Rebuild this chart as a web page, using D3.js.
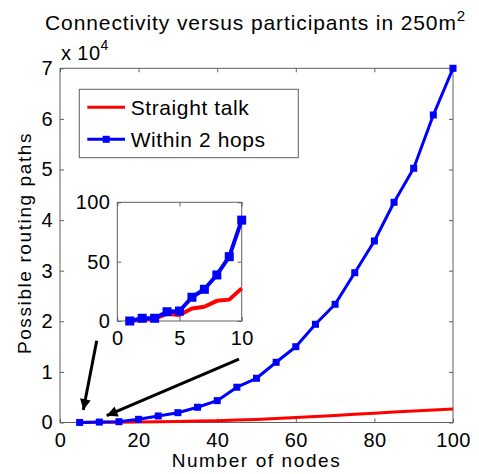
<!DOCTYPE html>
<html><head><meta charset="utf-8">
<script src="https://cdn.jsdelivr.net/npm/d3@7"></script>
<style>
body{margin:0;background:#fff}
svg{display:block;background:#fff}
text{font-family:"Liberation Sans",Arial,Helvetica,sans-serif;fill:#000}
</style>
</head><body>
<svg id="chart" width="479" height="474"></svg>
<script>
// ---- data ----
const nodes = [5,10,15,20,25,30,35,40,45,50,55,60,65,70,75,80,85,90,95,100];
const straightTalk = [5,27,50,90,140,200,280,370,480,600,780,980,1190,1400,1630,1850,2060,2260,2460,2650];
const within2Hops = [8,85,160,630,1290,1940,3010,4320,6970,8740,11900,14980,19410,23360,29600,35870,43520,50240,60770,70000];

const insetNodes = [1,2,3,4,5,6,7,8,9,10];
const insetStraight = [0,1,2,6,5,10.5,12,17,18,27.5];
const insetWithin = [0,2.3,2.3,7.8,8.4,20,26.7,38.8,54.2,85];

const xTicks = [0,20,40,60,80,100];
const yTicks = [0,10000,20000,30000,40000,50000,60000,70000];
const insetXTicks = [0,5,10];
const insetYTicks = [0,50,100];

const seriesNames = ["Straight talk","Within 2 hops"];
const seriesColors = ["#ff0000","#0000ff"];

const titleText = "Connectivity versus participants in 250m";
const xLabel = "Number of nodes";
const yLabel = "Possible routing paths";

// arrows in main-axes data coordinates
const arrows = [
  {x1:9.34, y1:16170, x2:5.93, y2:2470},
  {x1:45.55, y1:12520, x2:11.88, y2:1340}
];

// ---- drawing ----
const svg = d3.select("#chart");
const axisColor = "#606060";

const x = d3.scaleLinear().domain([0,100]).range([60,453]);
const y = d3.scaleLinear().domain([0,70000]).range([422.5,68.3]);

svg.append("defs").append("marker")
  .attr("id","ah").attr("viewBox","0 0 10 10").attr("refX",10).attr("refY",5)
  .attr("markerWidth",4.2).attr("markerHeight",3.6).attr("markerUnits","strokeWidth")
  .attr("orient","auto")
  .append("path").attr("d","M0,0L10,5L0,10Z").attr("fill","#000");

function styleAxis(g){
  g.select(".domain").remove();
  g.selectAll(".tick line").attr("stroke",axisColor);
  g.selectAll("text").attr("font-size",20).attr("letter-spacing","0.4px").attr("font-family",null);
}

// main axes frame
const main = svg.append("g");
main.append("g").attr("transform",`translate(0,${y(0)})`)
  .call(d3.axisBottom(x).tickValues(xTicks).tickSize(-4).tickPadding(10))
  .call(styleAxis);
main.append("g").attr("transform",`translate(0,${y(70000)})`)
  .call(d3.axisTop(x).tickValues(xTicks).tickSize(-4).tickFormat(""))
  .call(styleAxis);
main.append("g").attr("transform",`translate(${x(0)},0)`)
  .call(d3.axisLeft(y).tickValues(yTicks).tickSize(-4).tickPadding(7).tickFormat(d=>d/10000))
  .call(styleAxis);
main.append("g").attr("transform",`translate(${x(100)},0)`)
  .call(d3.axisRight(y).tickValues(yTicks).tickSize(-4).tickFormat(""))
  .call(styleAxis);
main.append("rect").attr("x",x(0)).attr("y",y(70000))
  .attr("width",x(100)-x(0)).attr("height",y(0)-y(70000))
  .attr("fill","none").attr("stroke",axisColor).attr("stroke-width",1);

// lines
const lineMain = (vals)=>d3.line().x((d,i)=>x(nodes[i])).y(d=>y(d))(vals);
main.append("path").attr("d",lineMain(straightTalk)).attr("fill","none")
  .attr("stroke",seriesColors[0]).attr("stroke-width",3).attr("stroke-linejoin","round");
main.append("path").attr("d",lineMain(within2Hops)).attr("fill","none")
  .attr("stroke",seriesColors[1]).attr("stroke-width",3).attr("stroke-linejoin","round");
main.selectAll("rect.mk").data(within2Hops).join("rect").attr("class","mk")
  .attr("x",(d,i)=>x(nodes[i])-3.5).attr("y",d=>y(d)-3.5)
  .attr("width",7).attr("height",7).attr("fill",seriesColors[1]);

// arrows
main.selectAll("line.arrow").data(arrows).join("line").attr("class","arrow")
  .attr("x1",d=>x(d.x1)).attr("y1",d=>y(d.y1))
  .attr("x2",d=>x(d.x2)).attr("y2",d=>y(d.y2))
  .attr("stroke","#000").attr("stroke-width",3).attr("marker-end","url(#ah)");

// title
const t = svg.append("text").attr("x",45).attr("y",30).attr("font-size",21).attr("letter-spacing","0.9px");
t.append("tspan").text(titleText);
t.append("tspan").attr("font-size",15).attr("dy",-9).text("2");

// exponent
const ex = svg.append("text").attr("x",61).attr("y",60).attr("font-size",20).attr("letter-spacing","0.4px");
ex.append("tspan").text("x 10");
ex.append("tspan").attr("font-size",14).attr("dy",-10).text("4");

// axis labels
svg.append("text").attr("x",(x(0)+x(100))/2).attr("y",467).attr("text-anchor","middle")
  .attr("font-size",19).attr("letter-spacing","1.6px").text(xLabel);
svg.append("text").attr("transform","translate(31,243) rotate(-90)").attr("text-anchor","middle")
  .attr("font-size",19).attr("letter-spacing","1.6px").text(yLabel);

// legend
const lg = svg.append("g");
lg.append("rect").attr("x",79.3).attr("y",89.3).attr("width",219).attr("height",68.4)
  .attr("fill","#fff").attr("stroke",axisColor).attr("stroke-width",1);
const legRows = [107.3,139.3];
seriesNames.forEach((name,i)=>{
  lg.append("line").attr("x1",87.3).attr("x2",125).attr("y1",legRows[i]).attr("y2",legRows[i])
    .attr("stroke",seriesColors[i]).attr("stroke-width",3);
  if(i===1) lg.append("rect").attr("x",106.2-3.5).attr("y",legRows[i]-3.5).attr("width",7).attr("height",7).attr("fill",seriesColors[i]);
  lg.append("text").attr("x",130.7).attr("y",legRows[i]+7.5).attr("font-size",21).attr("letter-spacing","0.6px").text(name);
});

// inset
const xi = d3.scaleLinear().domain([0,10]).range([117.3,241.7]);
const yi = d3.scaleLinear().domain([0,100]).range([321,202.3]);
const ins = svg.append("g");
ins.append("rect").attr("x",xi(0)).attr("y",yi(100)).attr("width",xi(10)-xi(0)).attr("height",yi(0)-yi(100)).attr("fill","#fff");
ins.append("g").attr("transform",`translate(0,${yi(0)})`)
  .call(d3.axisBottom(xi).tickValues(insetXTicks).tickSize(-4).tickPadding(10)).call(styleAxis);
ins.append("g").attr("transform",`translate(0,${yi(100)})`)
  .call(d3.axisTop(xi).tickValues(insetXTicks).tickSize(-4).tickFormat("")).call(styleAxis);
ins.append("g").attr("transform",`translate(${xi(0)},0)`)
  .call(d3.axisLeft(yi).tickValues(insetYTicks).tickSize(-4).tickPadding(7)).call(styleAxis);
ins.append("g").attr("transform",`translate(${xi(10)},0)`)
  .call(d3.axisRight(yi).tickValues(insetYTicks).tickSize(-4).tickFormat("")).call(styleAxis);
ins.append("rect").attr("x",xi(0)).attr("y",yi(100)).attr("width",xi(10)-xi(0)).attr("height",yi(0)-yi(100))
  .attr("fill","none").attr("stroke",axisColor).attr("stroke-width",1);
const lineIns = (vals)=>d3.line().x((d,i)=>xi(insetNodes[i])).y(d=>yi(d))(vals);
ins.append("path").attr("d",lineIns(insetStraight)).attr("fill","none")
  .attr("stroke",seriesColors[0]).attr("stroke-width",4).attr("stroke-linejoin","round");
ins.append("path").attr("d",lineIns(insetWithin)).attr("fill","none")
  .attr("stroke",seriesColors[1]).attr("stroke-width",4).attr("stroke-linejoin","round");
ins.selectAll("rect.mk").data(insetWithin).join("rect").attr("class","mk")
  .attr("x",(d,i)=>xi(insetNodes[i])-4.5).attr("y",d=>yi(d)-4.5)
  .attr("width",9).attr("height",9).attr("fill",seriesColors[1]);
</script>
</body></html>
